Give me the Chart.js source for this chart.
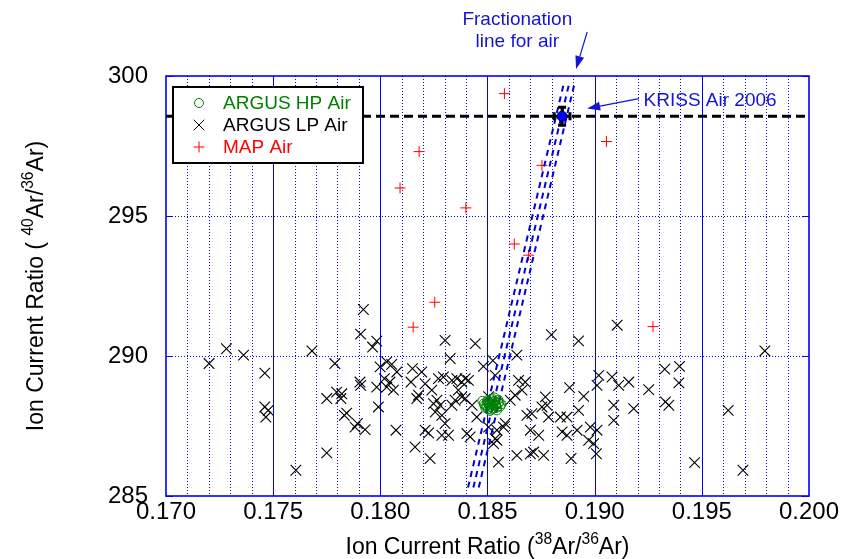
<!DOCTYPE html>
<html>
<head>
<meta charset="utf-8">
<script src="https://cdn.jsdelivr.net/npm/chart.js@4.4.1/dist/chart.umd.min.js"></script>
<style>
  html, body { margin: 0; padding: 0; background: #fff; }
</style>
</head>
<body>
<canvas id="chart" width="843" height="559"></canvas>
<script>
// [38Ar/36Ar, 40Ar/36Ar] pairs
const hpAir = [
    [0.18482, 288.30], [0.18495, 288.22], [0.18505, 288.35], [0.18512, 288.18], [0.18520, 288.28],
    [0.18530, 288.40], [0.18540, 288.25], [0.18552, 288.32], [0.18560, 288.20], [0.18490, 288.15],
    [0.18500, 288.42], [0.18515, 288.46], [0.18525, 288.12], [0.18535, 288.38], [0.18545, 288.16],
    [0.18508, 288.26], [0.18518, 288.08], [0.18528, 288.30], [0.18498, 288.36], [0.18538, 288.22],
    [0.18550, 288.44], [0.18512, 288.04], [0.18522, 288.48], [0.18486, 288.24], [0.18556, 288.34],
    [0.18476, 288.40], [0.18502, 288.10], [0.18532, 288.52], [0.18565, 288.28], [0.18544, 288.06]
]

const lpAir = [
    [0.17201, 289.73], [0.17282, 290.26], [0.17362, 290.03], [0.17461, 289.39], [0.17461, 288.18],
    [0.17477, 288.06], [0.17466, 287.82], [0.17681, 290.18], [0.17750, 288.48], [0.17750, 286.54],
    [0.17606, 285.92], [0.17788, 289.73], [0.17921, 291.66], [0.17908, 290.78], [0.17983, 290.53],
    [0.17964, 290.32], [0.17905, 289.07], [0.17908, 288.95], [0.17796, 288.71], [0.17816, 288.48],
    [0.17843, 287.96], [0.17832, 287.88], [0.17882, 287.46], [0.17929, 287.37], [0.17893, 287.59],
    [0.17991, 288.18], [0.18073, 287.35], [0.17820, 288.65],
    [0.17999, 289.61], [0.18030, 289.79], [0.18053, 289.70], [0.18077, 289.43], [0.18019, 289.19],
    [0.18045, 289.07], [0.17983, 288.89], [0.18061, 288.78], [0.18030, 288.89], [0.18150, 289.55],
    [0.18193, 289.43], [0.18143, 289.07], [0.18209, 289.01], [0.18178, 288.60], [0.18170, 288.48],
    [0.18240, 288.78], [0.18271, 289.19], [0.18294, 289.25], [0.18264, 288.42], [0.18248, 288.30],
    [0.18279, 288.24], [0.18256, 288.00], [0.18287, 287.88], [0.18302, 290.56], [0.18326, 289.91],
    [0.18334, 289.13], [0.18357, 289.19], [0.18380, 289.07], [0.18396, 289.19], [0.18411, 289.13],
    [0.18364, 288.78], [0.18380, 288.54], [0.18396, 288.48], [0.18349, 288.42], [0.18334, 288.24],
    [0.18302, 287.59], [0.18287, 287.17], [0.18318, 287.17], [0.18209, 287.35], [0.18225, 287.25],
    [0.18162, 286.75], [0.18232, 286.34], [0.18404, 287.23], [0.18419, 287.11], [0.18443, 290.44],
    [0.18481, 289.63], [0.18450, 287.82], [0.18505, 287.46],
    [0.18525, 289.84], [0.18637, 290.03], [0.18536, 289.31], [0.18645, 289.13], [0.18676, 289.07],
    [0.18661, 288.78], [0.18629, 288.60], [0.18606, 288.42], [0.18583, 287.59], [0.18575, 287.46],
    [0.18544, 287.35], [0.18536, 287.05], [0.18551, 286.21], [0.18637, 286.45], [0.18684, 287.88],
    [0.18707, 287.94], [0.18770, 288.54], [0.18778, 288.24], [0.18754, 288.18], [0.18700, 287.35],
    [0.18739, 287.17], [0.18700, 286.51], [0.18715, 286.57], [0.18762, 286.45], [0.18798, 290.76],
    [0.18925, 290.54], [0.19105, 291.10], [0.18883, 288.87], [0.18949, 288.56], [0.18785, 287.82],
    [0.18840, 287.82], [0.18871, 287.82], [0.18925, 288.06], [0.18848, 287.29], [0.18871, 287.17],
    [0.18918, 287.35], [0.18890, 286.34], [0.18980, 287.46], [0.19011, 287.35], [0.18972, 286.99],
    [0.18995, 286.87], [0.19008, 286.51], [0.19019, 289.31], [0.19081, 289.25], [0.19112, 288.95],
    [0.19159, 289.07], [0.19252, 288.80], [0.19011, 288.95], [0.19089, 288.24], [0.19182, 288.12],
    [0.19089, 287.70],
    [0.19327, 289.53], [0.19396, 289.63], [0.19393, 289.04], [0.19330, 288.36], [0.19346, 288.24],
    [0.19623, 288.06], [0.19794, 290.18], [0.19466, 286.19], [0.19692, 285.92],
    [0.18505, 288.55], [0.18544, 286.99], [0.18528, 286.87], [0.18428, 288.24]
]

const mapAir = [
    [0.18579, 299.37], [0.18181, 297.30], [0.18092, 296.00], [0.18399, 295.29], [0.19055, 297.66],
    [0.18754, 296.81], [0.18625, 294.00], [0.18692, 293.60], [0.18254, 291.92], [0.18153, 291.03],
    [0.19272, 291.05]
]

// KRISS Air 2006 reference value with its error bars
const krissAir = [0.18848, 298.56]
const krissErr = [0.00037, 0.32]

// mass dependent fractionation line through the air value, with its band
const fracY = [285.3, 299.7]
const fracLowX = [0.18409, 0.18855]
const fracMidX = [0.18434, 0.18880]
const fracHighX = [0.18459, 0.18905]

const xTicks = [0.170, 0.175, 0.180, 0.185, 0.190, 0.195, 0.200]
const yTicks = [285, 290, 295, 300]

const FONT = "'Liberation Sans', Arial, Helvetica, sans-serif"
const BLUE = '#0000ff'
const NOTE_BLUE = '#1414d2'

function toPoints(pairs) {
    return pairs.map(p => ({x: p[0], y: p[1]}))
}

function lineData(xs, ys) {
    return xs.map((x, i) => ({x: x, y: ys[i]}))
}

function drawMarker(ctx, style, x, y, r) {
    ctx.beginPath()
    if (style == 'circle') {
        ctx.arc(x, y, r, 0, Math.PI * 2)
    } else if (style == 'cross') {
        ctx.moveTo(x - r, y); ctx.lineTo(x + r, y)
        ctx.moveTo(x, y - r); ctx.lineTo(x, y + r)
    } else {
        let d = r * Math.SQRT1_2
        ctx.moveTo(x - d, y - d); ctx.lineTo(x + d, y + d)
        ctx.moveTo(x + d, y - d); ctx.lineTo(x - d, y + d)
    }
    ctx.stroke()
}

function drawArrow(ctx, x1, y1, x2, y2) {
    let a = Math.atan2(y2 - y1, x2 - x1)
    let len = 13, w = 4.5
    ctx.beginPath()
    ctx.moveTo(x1, y1)
    ctx.lineTo(x2 - Math.cos(a) * len, y2 - Math.sin(a) * len)
    ctx.stroke()
    ctx.beginPath()
    ctx.moveTo(x2, y2)
    ctx.lineTo(x2 - Math.cos(a) * len - Math.sin(a) * w, y2 - Math.sin(a) * len + Math.cos(a) * w)
    ctx.lineTo(x2 - Math.cos(a) * len + Math.sin(a) * w, y2 - Math.sin(a) * len - Math.cos(a) * w)
    ctx.closePath()
    ctx.fill()
}

// text with superscripts, parts = [[text, isSup], ...]
function drawSupText(ctx, parts, size) {
    let widths = parts.map(p => {
        ctx.font = (p[1] ? size * 0.68 : size) + 'px ' + FONT
        return ctx.measureText(p[0]).width
    })
    let total = widths.reduce((a, b) => a + b, 0)
    let x = -total / 2
    parts.forEach((p, i) => {
        ctx.font = (p[1] ? size * 0.68 : size) + 'px ' + FONT
        ctx.fillText(p[0], x, p[1] ? -size * 0.42 : 0)
        x += widths[i]
    })
}

const figurePlugin = {
    id: 'figure',
    beforeDraw(chart) {
        const ctx = chart.ctx
        ctx.save()
        ctx.fillStyle = '#fff'
        ctx.fillRect(0, 0, chart.width, chart.height)
        ctx.restore()
    },
    beforeDatasetsDraw(chart) {
        const ctx = chart.ctx, ca = chart.chartArea
        const xs = chart.scales.x, ys = chart.scales.y
        ctx.save()
        ctx.lineWidth = 1
        ctx.strokeStyle = BLUE
        for (let k = 171; k < 200; k++) {
            let px = Math.round(xs.getPixelForValue(k / 1000)) + 0.5
            ctx.setLineDash(k % 5 == 0 ? [] : [1, 2])
            ctx.beginPath()
            ctx.moveTo(px, ca.top)
            ctx.lineTo(px, ca.bottom)
            ctx.stroke()
        }
        ctx.setLineDash([1, 2])
        for (let v of [290, 295]) {
            let py = Math.round(ys.getPixelForValue(v)) + 0.5
            ctx.beginPath()
            ctx.moveTo(ca.left, py)
            ctx.lineTo(ca.right, py)
            ctx.stroke()
        }
        ctx.setLineDash([])
        // small inner ticks on the y axis
        for (let v of yTicks) {
            let py = Math.round(ys.getPixelForValue(v)) + 0.5
            ctx.beginPath()
            ctx.moveTo(ca.left, py); ctx.lineTo(ca.left + 7, py)
            ctx.moveTo(ca.right, py); ctx.lineTo(ca.right - 7, py)
            ctx.stroke()
        }
        ctx.lineWidth = 1.6
        ctx.strokeRect(ca.left, ca.top, ca.right - ca.left, ca.bottom - ca.top)
        ctx.restore()
    },
    beforeDatasetDraw(chart, args) {
        if (args.meta.label != 'KRISS Air 2006') return
        const ctx = chart.ctx
        const xs = chart.scales.x, ys = chart.scales.y
        let cx = xs.getPixelForValue(krissAir[0]), cy = ys.getPixelForValue(krissAir[1])
        let x0 = xs.getPixelForValue(krissAir[0] - krissErr[0]), x1 = xs.getPixelForValue(krissAir[0] + krissErr[0])
        let y0 = ys.getPixelForValue(krissAir[1] + krissErr[1]), y1 = ys.getPixelForValue(krissAir[1] - krissErr[1])
        ctx.save()
        ctx.strokeStyle = '#000'
        ctx.lineWidth = 3
        ctx.beginPath()
        ctx.moveTo(cx, y0); ctx.lineTo(cx, y1)
        ctx.moveTo(cx - 4, y0); ctx.lineTo(cx + 4, y0)
        ctx.moveTo(cx - 4, y1); ctx.lineTo(cx + 4, y1)
        ctx.moveTo(x0, cy); ctx.lineTo(x1, cy)
        ctx.moveTo(x0, cy - 4); ctx.lineTo(x0, cy + 4)
        ctx.moveTo(x1, cy - 4); ctx.lineTo(x1, cy + 4)
        ctx.stroke()
        ctx.restore()
    },
    afterDraw(chart) {
        const ctx = chart.ctx, ca = chart.chartArea
        const xs = chart.scales.x, ys = chart.scales.y
        ctx.save()

        // legend box
        let lx = ca.left + 7, ly = ca.top + 11
        ctx.fillStyle = '#fff'
        ctx.fillRect(lx, ly, 190, 76)
        ctx.strokeStyle = '#000'
        ctx.lineWidth = 2
        ctx.strokeRect(lx, ly, 190, 76)
        const entries = [
            ['ARGUS HP Air', '#008000', 'circle', 4.5],
            ['ARGUS LP Air', '#000000', 'crossRot', 7.5],
            ['MAP Air', '#ff0000', 'cross', 5.5]
        ]
        ctx.font = '19px ' + FONT
        ctx.textBaseline = 'middle'
        entries.forEach((e, i) => {
            let ey = ly + 16 + i * 22
            ctx.strokeStyle = e[1]
            ctx.lineWidth = 1
            drawMarker(ctx, e[2], lx + 26, ey, e[3])
            ctx.fillStyle = e[1]
            ctx.fillText(e[0], lx + 50, ey + 1)
        })

        // annotations
        ctx.fillStyle = NOTE_BLUE
        ctx.strokeStyle = NOTE_BLUE
        ctx.lineWidth = 1.2
        ctx.textBaseline = 'alphabetic'
        ctx.font = '19px ' + FONT
        ctx.textAlign = 'center'
        let fx = xs.getPixelForValue(0.18639)
        ctx.fillText('Fractionation', fx, ca.top - 51)
        ctx.fillText('line for air', fx, ca.top - 29)
        drawArrow(ctx, xs.getPixelForValue(0.18965), ca.top - 44, xs.getPixelForValue(0.18913), ca.top - 7)
        ctx.textAlign = 'left'
        ctx.fillText('KRISS Air 2006', xs.getPixelForValue(0.19228), ys.getPixelForValue(298.92))
        drawArrow(ctx, xs.getPixelForValue(0.19206), ys.getPixelForValue(299.19),
                  xs.getPixelForValue(0.18965), ys.getPixelForValue(298.84))

        // axis titles with superscripts
        ctx.fillStyle = '#000'
        ctx.save()
        ctx.translate((ca.left + ca.right) / 2, 554)
        drawSupText(ctx, [['Ion Current Ratio (', false], ['38', true], ['Ar/', false], ['36', true], ['Ar)', false]], 23)
        ctx.restore()
        ctx.save()
        ctx.translate(43, (ca.top + ca.bottom) / 2)
        ctx.rotate(-Math.PI / 2)
        drawSupText(ctx, [['Ion Current Ratio ( ', false], ['40', true], ['Ar/', false], ['36', true], ['Ar)', false]], 23)
        ctx.restore()

        ctx.restore()
    }
}

const fracStyle = {
    type: 'line', showLine: true, pointRadius: 0, borderColor: '#0000dc',
    borderWidth: 2, borderDash: [6, 5], fill: false
}

new Chart(document.getElementById('chart'), {
    type: 'scatter',
    data: {
        datasets: [
            {
                label: 'KRISS Air 2006', data: [{x: krissAir[0], y: krissAir[1]}],
                pointStyle: 'circle', pointRadius: 5, backgroundColor: '#0000ff',
                borderColor: '#000040', borderWidth: 1
            },
            {
                label: 'ARGUS HP Air', data: toPoints(hpAir), pointStyle: 'circle', pointRadius: 4.5,
                backgroundColor: 'rgba(0,0,0,0)', borderColor: '#008000', borderWidth: 1
            },
            Object.assign({label: 'frac low', data: lineData(fracLowX, fracY)}, fracStyle),
            Object.assign({label: 'frac mid', data: lineData(fracMidX, fracY)}, fracStyle),
            Object.assign({label: 'frac high', data: lineData(fracHighX, fracY)}, fracStyle),
            {
                label: 'air line', type: 'line', showLine: true, pointRadius: 0,
                data: lineData([0.170, 0.200], [krissAir[1], krissAir[1]]),
                borderColor: '#000', borderWidth: 3, borderDash: [9, 5], fill: false
            },
            {
                label: 'MAP Air', data: toPoints(mapAir), pointStyle: 'cross', pointRadius: 5.5,
                borderColor: '#ff0000', borderWidth: 1
            },
            {
                label: 'ARGUS LP Air', data: toPoints(lpAir), pointStyle: 'crossRot', pointRadius: 7.5,
                borderColor: '#000', borderWidth: 1.1
            }
        ]
    },
    options: {
        responsive: false,
        animation: false,
        events: [],
        layout: {padding: {top: 76, right: 34, left: 0, bottom: 0}},
        plugins: {legend: {display: false}, tooltip: {enabled: false}},
        scales: {
            x: {
                type: 'linear', min: 0.170, max: 0.200,
                afterBuildTicks: s => { s.ticks = xTicks.map(v => ({value: v})) },
                afterFit: s => { s.height = 63 },
                grid: {display: false, drawTicks: false},
                border: {display: false},
                ticks: {
                    color: '#000', font: {family: FONT, size: 24}, padding: 2,
                    maxRotation: 0, autoSkip: false, callback: v => v.toFixed(3)
                }
            },
            y: {
                type: 'linear', min: 285, max: 300,
                afterBuildTicks: s => { s.ticks = yTicks.map(v => ({value: v})) },
                afterFit: s => { s.width = 166 },
                grid: {display: false, drawTicks: false},
                border: {display: false},
                ticks: {
                    color: '#000', font: {family: FONT, size: 24}, padding: 18,
                    autoSkip: false, callback: v => String(v)
                }
            }
        }
    },
    plugins: [figurePlugin]
})
</script>
</body>
</html>
